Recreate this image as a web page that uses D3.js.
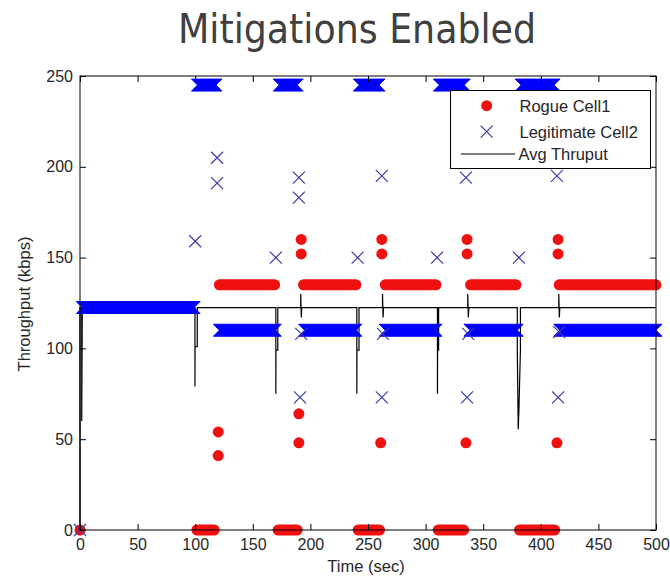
<!DOCTYPE html>
<html>
<head>
<meta charset="utf-8">
<script src="https://cdn.jsdelivr.net/npm/d3@7"></script>
<style>
  html, body { margin: 0; padding: 0; background: #fff; }
  svg { display: block; }
</style>
</head>
<body>
<svg id="chart" width="670" height="577"></svg>
<script>
// ---------------- data ----------------
const chartTitle = "Mitigations Enabled";
const xLabel = "Time (sec)";
const yLabel = "Throughput (kbps)";
const xTicks = [0, 50, 100, 150, 200, 250, 300, 350, 400, 450, 500];
const yTicks = [0, 50, 100, 150, 200, 250];
const legendLabels = ["Rogue Cell1", "Legitimate Cell2", "Avg Thruput"];

// Rogue Cell1: runs of consecutive samples [tStart, tEnd, kbps]
const rogueRuns = [
  [101.5, 116.5, 0], [121, 169, 135], [172, 188.5, 0], [194, 239.5, 135],
  [241.5, 260, 0], [265, 309, 135], [311, 333, 0], [339, 378.5, 135],
  [381.5, 412, 0], [416, 500, 135]
];
// Rogue Cell1: isolated samples [t, kbps]
const roguePoints = [
  [0, 0], [120, 54], [120, 41], [190, 64], [190, 48], [192, 160], [192, 152],
  [261, 48], [262, 160], [262, 152], [335, 48], [336, 160], [336, 152],
  [414, 48], [415, 160], [415, 152]
];
// Legitimate Cell2: runs [tStart, tEnd, kbps]
const legitRuns = [
  [2, 99, 122.5], [102, 118, 245], [121, 169.5, 110], [173, 188.5, 245],
  [195, 239.5, 110], [242.5, 259.5, 245], [265, 309, 110], [312, 333.5, 245],
  [338.5, 379.5, 110], [383, 411.5, 245], [416.5, 500, 110]
];
// Legitimate Cell2: isolated samples [t, kbps]
const legitPoints = [
  [0, 0], [100, 159], [119, 205], [119, 191], [170, 150], [190, 194], [190, 183],
  [191, 73], [192, 108], [241, 150], [262, 195], [262, 73], [263, 108],
  [310, 150], [335, 194], [336, 73], [337, 108], [381, 150], [414, 195],
  [415, 73], [416, 109]
];
// Avg Thruput polyline [t, kbps]
const avgThruput = [
  [0, 0], [0, 122.5], [1.5, 122.5], [1.5, 60], [2, 122.5],
  [99.8, 122.5], [99.8, 79], [99.9, 101], [101.8, 101], [101.8, 122.5],
  [170, 122.5], [170, 75], [170.1, 99], [171.7, 99], [171.7, 122.5],
  [191.6, 122.5], [191.6, 130], [192.1, 117], [192.5, 122.5],
  [240.3, 122.5], [240.3, 75], [240.4, 99], [242.2, 99], [242.2, 122.5],
  [262.6, 122.5], [262.6, 130], [263.1, 117], [263.5, 122.5],
  [310.3, 122.5], [310.3, 75], [310.4, 99], [311.3, 99], [311.3, 122.5],
  [336.6, 122.5], [336.6, 130], [337.1, 117], [337.5, 122.5],
  [379.6, 122.5], [379.6, 99], [380.4, 55.5], [381, 66], [382.3, 99], [382.3, 122.5],
  [415.6, 122.5], [415.6, 130], [416.1, 117], [416.5, 122.5],
  [500, 122.5]
];

// ---------------- styles ----------------
const RED = "#f01010";
const BLUE = "#0000ff";
const XCOL = "#3a3aa8";
const TXT = "#262626";
const FONT = "'Liberation Sans', Arial, sans-serif";
const DOT_R = 5.5;
const XH = 6;

// ---------------- layout ----------------
const svg = d3.select("#chart");
const W = 670, H = 577;
const pL = 80, pR = 656, pT = 76, pB = 530;

svg.append("rect").attr("width", W).attr("height", H).attr("fill", "#fff");

const x = d3.scaleLinear().domain([0, 500]).range([pL, pR]);
const y = d3.scaleLinear().domain([0, 250]).range([pB, pT]);

// title
svg.append("text")
  .attr("x", 357).attr("y", 43)
  .attr("text-anchor", "middle")
  .attr("font-family", "'DejaVu Sans Condensed', 'DejaVu Sans', sans-serif")
  .attr("font-stretch", "condensed")
  .attr("font-size", 40)
  .attr("fill", "#404040")
  .attr("textLength", 358).attr("lengthAdjust", "spacingAndGlyphs")
  .text(chartTitle);

const plot = svg.append("g");

// Avg Thruput line (beneath markers)
plot.append("path")
  .datum(avgThruput)
  .attr("fill", "none")
  .attr("stroke", "#000")
  .attr("stroke-width", 1.2)
  .attr("d", d3.line().x(d => x(d[0])).y(d => y(d[1])));

// Rogue runs as thick rounded strokes (dense dots)
plot.selectAll(".rrun").data(rogueRuns).join("line")
  .attr("x1", d => x(d[0])).attr("x2", d => x(d[1]))
  .attr("y1", d => y(d[2])).attr("y2", d => y(d[2]))
  .attr("stroke", RED).attr("stroke-width", DOT_R * 2)
  .attr("stroke-linecap", "round");

plot.selectAll(".rpt").data(roguePoints).join("circle")
  .attr("cx", d => x(d[0])).attr("cy", d => y(d[1]))
  .attr("r", DOT_R).attr("fill", RED);

// Legit runs: union of dense X markers -> notched band
function bandPath(d) {
  const x0 = x(d[0]), x1 = x(d[1]), yc = y(d[2]);
  return `M${x0 - XH},${yc - XH}L${x1 + XH},${yc - XH}L${x1},${yc}L${x1 + XH},${yc + XH}` +
         `L${x0 - XH},${yc + XH}L${x0},${yc}Z`;
}
plot.selectAll(".lrun").data(legitRuns).join("path")
  .attr("d", bandPath)
  .attr("fill", BLUE).attr("stroke", BLUE).attr("stroke-width", 1);

const xMark = `M${-XH},${-XH}L${XH},${XH}M${-XH},${XH}L${XH},${-XH}`;
plot.selectAll(".lpt").data(legitPoints).join("path")
  .attr("transform", d => `translate(${x(d[0])},${y(d[1])})`)
  .attr("d", xMark)
  .attr("fill", "none").attr("stroke", XCOL).attr("stroke-width", 1.2);

// ---------------- axes ----------------
const fmt = d3.format("d");
function styleAxis(g, labels) {
  g.select(".domain").remove();
  g.selectAll(".tick line").attr("stroke", "#000").attr("stroke-width", 1);
  if (!labels) g.selectAll(".tick text").remove();
  else g.selectAll(".tick text").attr("fill", TXT).attr("font-family", FONT).attr("font-size", 16);
}
svg.append("g").attr("transform", `translate(0,${pB})`)
  .call(d3.axisBottom(x).tickValues(xTicks).tickFormat(fmt).tickSizeInner(-6).tickSizeOuter(0).tickPadding(9))
  .call(g => styleAxis(g, true));
svg.append("g").attr("transform", `translate(0,${pT})`)
  .call(d3.axisTop(x).tickValues(xTicks).tickSizeInner(-6).tickSizeOuter(0))
  .call(g => styleAxis(g, false));
svg.append("g").attr("transform", `translate(${pL},0)`)
  .call(d3.axisLeft(y).tickValues(yTicks).tickFormat(fmt).tickSizeInner(-6).tickSizeOuter(0).tickPadding(7))
  .call(g => styleAxis(g, true));
svg.append("g").attr("transform", `translate(${pR},0)`)
  .call(d3.axisRight(y).tickValues(yTicks).tickSizeInner(-6).tickSizeOuter(0))
  .call(g => styleAxis(g, false));

// frame
svg.append("rect").attr("x", pL).attr("y", pT)
  .attr("width", pR - pL).attr("height", pB - pT)
  .attr("fill", "none").attr("stroke", "#000").attr("stroke-width", 1);

// axis labels
svg.append("text")
  .attr("x", 366).attr("y", 571.5).attr("text-anchor", "middle")
  .attr("font-family", FONT).attr("font-size", 16.5).attr("fill", TXT)
  .text(xLabel);
svg.append("text")
  .attr("transform", "translate(30,304) rotate(-90)")
  .attr("text-anchor", "middle")
  .attr("font-family", FONT).attr("font-size", 16.5).attr("fill", TXT)
  .text(yLabel);

// ---------------- legend ----------------
const lg = svg.append("g");
lg.append("rect").attr("x", 450.5).attr("y", 90.5).attr("width", 200).attr("height", 78)
  .attr("fill", "#fff").attr("stroke", "#000").attr("stroke-width", 1);
const rowsY = [105.7, 131.7, 154];
lg.append("circle").attr("cx", 486.7).attr("cy", rowsY[0]).attr("r", DOT_R).attr("fill", RED);
lg.append("path").attr("transform", `translate(486.7,${rowsY[1]})`).attr("d", xMark)
  .attr("fill", "none").attr("stroke", XCOL).attr("stroke-width", 1.2);
lg.append("line").attr("x1", 460.7).attr("x2", 515).attr("y1", rowsY[2]).attr("y2", rowsY[2])
  .attr("stroke", "#000").attr("stroke-width", 1.2);
lg.selectAll(".lt").data(legendLabels).join("text")
  .attr("x", (d, i) => i === 2 ? 518.5 : 519.5)
  .attr("y", (d, i) => rowsY[i] + 6)
  .attr("font-family", FONT).attr("font-size", 16.5).attr("fill", TXT)
  .text(d => d);
</script>
</body>
</html>
